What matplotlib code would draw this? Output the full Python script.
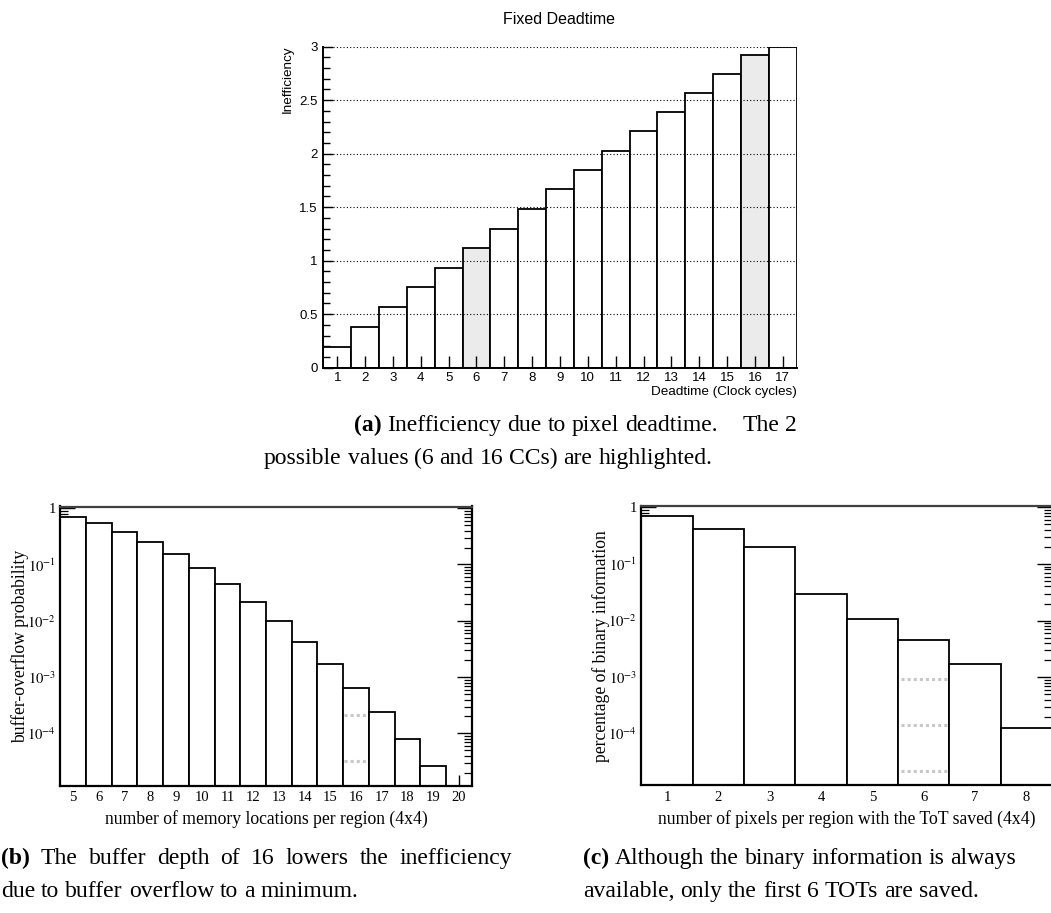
import matplotlib
matplotlib.use('Agg')
import matplotlib.pyplot as plt
import numpy as np
from matplotlib.ticker import MultipleLocator, LogLocator, FuncFormatter, NullFormatter, FixedLocator

plt.rcParams['mathtext.fontset'] = 'stix'

# ---------------- data ----------------
deadtime = list(range(1, 18))
inefficiency = [0.19, 0.377, 0.564, 0.751, 0.931, 1.115, 1.299, 1.483, 1.667,
                1.847, 2.028, 2.209, 2.389, 2.567, 2.744, 2.922, 3.0]
highlighted = [6, 16]

mem_locations = list(range(5, 21))
overflow_prob = [0.70, 0.54, 0.384, 0.252, 0.155, 0.0873, 0.0449, 0.0218,
                 0.01005, 0.00427, 0.00174, 6.45e-4, 2.37e-4, 8.07e-5, 2.61e-5, 0.0]
overflow_marks_bin = 16
overflow_marks = [2.1e-4, 3.3e-5]

tot_pixels = list(range(1, 9))
binary_frac = [0.70, 0.42, 0.20, 0.0291, 0.01052, 0.00448, 0.00169, 1.26e-4]
binary_marks_bin = 6
binary_marks = [9.1e-4, 1.42e-4, 2.2e-5]

# ---------------- figure ----------------
W, H = 1051, 913
fig = plt.figure(figsize=(W / 100, H / 100), dpi=100)


def fx(px):
    return px / W


def fy(py):
    return 1 - py / H


def axes_px(x0, y0, x1, y1):
    return fig.add_axes([fx(x0), fy(y1), (x1 - x0) / W, (y1 - y0) / H])


SANS = 'Liberation Sans'
SERIF = 'Liberation Serif'

# ---------------- panel (a) ----------------
ax1 = axes_px(323.3, 46.7, 796.7, 367.7)
colors = ['#ebebeb' if d in highlighted else 'white' for d in deadtime]
ax1.bar(deadtime, inefficiency, width=1.0, color=colors, edgecolor='black',
        linewidth=1.3, zorder=2)
ax1.set_xlim(0.5, 17.5)
ax1.set_ylim(0, 3)
ax1.set_axisbelow(False)
ax1.yaxis.grid(True, linestyle=(0, (1, 2)), color='black', linewidth=0.8)
ax1.yaxis.set_major_locator(MultipleLocator(0.5))
ax1.yaxis.set_minor_locator(MultipleLocator(0.1))
ax1.xaxis.set_major_locator(FixedLocator(deadtime))
ax1.yaxis.set_major_formatter(FuncFormatter(lambda v, p: ('%g' % v)))
for s in ['top', 'right']:
    ax1.spines[s].set_visible(False)
for s in ['left', 'bottom']:
    ax1.spines[s].set_linewidth(1.4)
ax1.tick_params(axis='x', which='major', direction='in', length=9, width=1.0,
                labelsize=9.5, pad=3)
ax1.tick_params(axis='y', which='major', direction='in', length=7, width=1.0,
                labelsize=9.5, pad=4)
ax1.tick_params(axis='y', which='minor', direction='in', length=5, width=1.0)
for lab in ax1.get_xticklabels() + ax1.get_yticklabels():
    lab.set_fontfamily(SANS)

fig.text(fx(559), fy(19.5), 'Fixed Deadtime', ha='center', va='center',
         fontsize=11.5, family=SANS)
fig.text(fx(288), fy(79), 'Inefficiency', ha='center', va='center',
         rotation=90, fontsize=9.7, family=SANS)
fig.text(fx(797), fy(392), 'Deadtime (Clock cycles)', ha='right', va='center',
         fontsize=9.7, family=SANS)


# ---------------- log panels ----------------
def log_fmt(v, p):
    e = int(round(np.log10(v)))
    return '1' if e == 0 else r'$10^{%d}$' % e


def style_log_panel(ax, xs, xlim, ylim):
    ax.set_yscale('log')
    ax.set_xlim(*xlim)
    ax.set_ylim(*ylim)
    ax.xaxis.set_major_locator(FixedLocator(xs))
    ax.yaxis.set_major_locator(LogLocator(base=10, numticks=10))
    ax.yaxis.set_minor_locator(LogLocator(base=10, subs=np.arange(2, 10), numticks=20))
    ax.yaxis.set_major_formatter(FuncFormatter(log_fmt))
    ax.yaxis.set_minor_formatter(NullFormatter())
    for s in ax.spines.values():
        s.set_linewidth(1.6)
    ax.spines['top'].set_color('#404040')
    ax.tick_params(axis='x', which='major', direction='in', length=8, width=1.0,
                   labelsize=10.5, pad=4, top=False)
    ax.tick_params(axis='x', which='minor', bottom=False, top=False)
    ax.tick_params(axis='y', which='major', direction='in', length=11, width=1.0,
                   labelsize=10.5, pad=3, left=True, right=True)
    ax.tick_params(axis='y', which='minor', direction='in', length=6, width=0.9,
                   left=True, right=True)
    for lab in ax.get_xticklabels() + ax.get_yticklabels():
        lab.set_fontfamily(SERIF)


def draw_log_bars(ax, xs, vals, base):
    xv = [x for x, v in zip(xs, vals) if v > 0]
    vv = [v for v in vals if v > 0]
    ax.bar(xv, [v - base for v in vv], bottom=base, width=1.0, color='white',
           edgecolor='black', linewidth=1.3, zorder=2)


def draw_marks(ax, xbin, ys):
    for y in ys:
        ax.hlines(y, xbin - 0.45, xbin + 0.45, colors='#c8c8c8',
                  linestyles=(0, (1, 1)), linewidth=2.2, zorder=3)


# panel (b)
ax2 = axes_px(60.3, 506.5, 471.7, 785.7)
draw_log_bars(ax2, mem_locations, overflow_prob, 1e-7)
draw_marks(ax2, overflow_marks_bin, overflow_marks)
style_log_panel(ax2, mem_locations, (4.5, 20.5), (1.18e-5, 1.07))
fig.text(fx(266), fy(819), 'number of memory locations per region (4x4)',
         ha='center', va='center', fontsize=12.7, family=SERIF)
fig.text(fx(20), fy(646), 'buffer-overflow probability', ha='center',
         va='center', rotation=90, fontsize=12.7, family=SERIF)

# panel (c)
ax3 = axes_px(641.3, 506.0, 1052.0, 785.3)
draw_log_bars(ax3, tot_pixels, binary_frac, 1e-7)
draw_marks(ax3, binary_marks_bin, binary_marks)
style_log_panel(ax3, tot_pixels, (0.5, 8.5), (1.22e-5, 1.06))
fig.text(fx(847), fy(819), 'number of pixels per region with the ToT saved (4x4)',
         ha='center', va='center', fontsize=12.7, family=SERIF)
fig.text(fx(601), fy(646), 'percentage of binary information', ha='center',
         va='center', rotation=90, fontsize=12.7, family=SERIF)

# ---------------- captions ----------------
CAP = 17.0
renderer = fig.canvas.get_renderer()


def text_w(s, weight='normal'):
    t = fig.text(0, 0, s, fontsize=CAP, family=SERIF, weight=weight)
    w = t.get_window_extent(renderer).width
    t.remove()
    return w


SPACE = text_w('a b') - text_w('ab')


def caption_line(label, words, x0, y, x1=None, stretch_at=None):
    items = []
    if label:
        items.append((label, 'bold'))
    items += [(w, 'normal') for w in words]
    widths = [text_w(s, wt) for s, wt in items]
    gaps = [SPACE] * (len(items) - 1)
    if x1 is not None:
        slack = x1 - x0 - sum(widths) - sum(gaps)
        if stretch_at is None:
            gaps = [g + slack / len(gaps) for g in gaps]
        else:
            gaps[stretch_at] += slack
    x = x0
    for i, ((s, wt), w) in enumerate(zip(items, widths)):
        fig.text(fx(x), fy(y), s, fontsize=CAP, family=SERIF, weight=wt,
                 ha='left', va='baseline')
        if i < len(gaps):
            x += w + gaps[i]


caption_line('(a)', 'Inefficiency due to pixel deadtime. The 2'.split(),
             354, 431, x1=797, stretch_at=5)
caption_line(None, 'possible values (6 and 16 CCs) are highlighted.'.split(),
             264, 464)
caption_line('(b)', 'The buffer depth of 16 lowers the inefficiency'.split(),
             1, 864, x1=512)
caption_line(None, 'due to buffer overflow to a minimum.'.split(), 1, 897)
caption_line('(c)', 'Although the binary information is always'.split(),
             583, 864)
caption_line(None, 'available, only the first 6 TOTs are saved.'.split(), 583, 897)

fig.savefig('out.png', dpi=100)
